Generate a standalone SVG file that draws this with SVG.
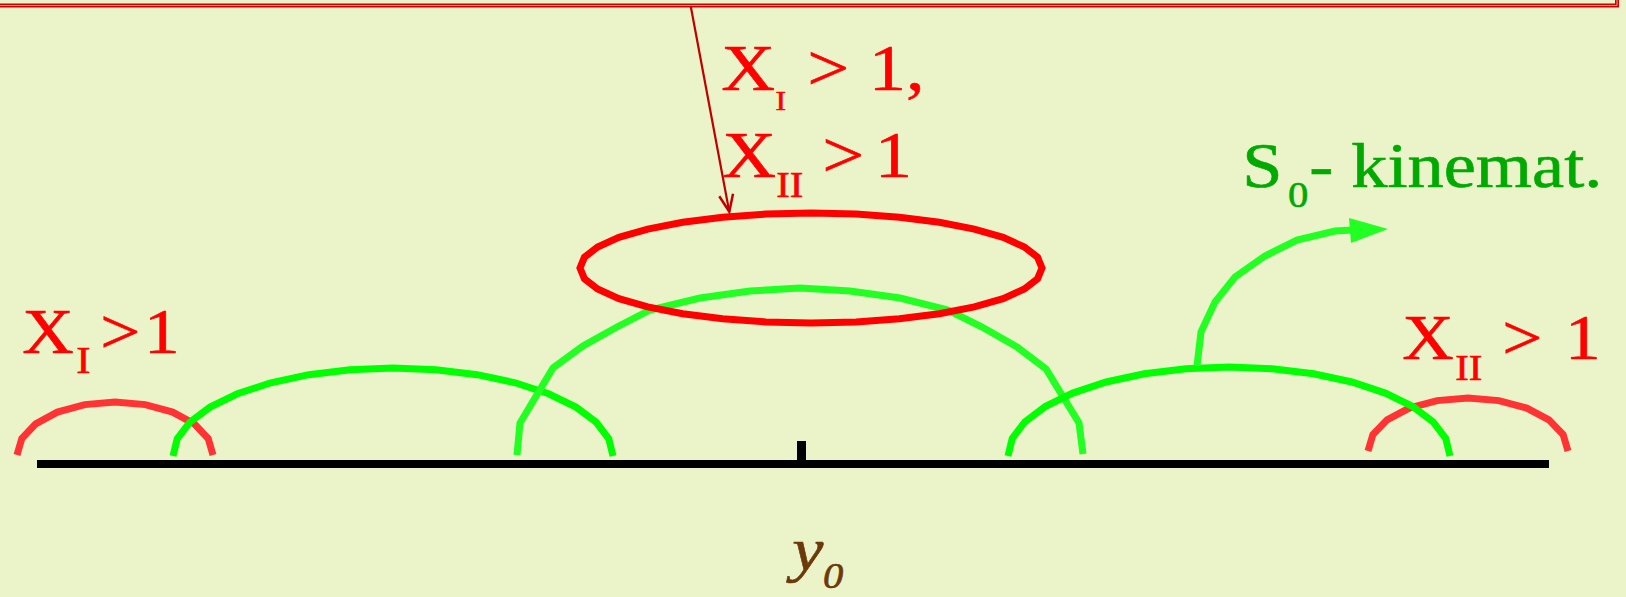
<svg xmlns="http://www.w3.org/2000/svg" width="1626" height="597" viewBox="0 0 1626 597">
<defs>
<style>
.lbl{font-family:"Liberation Serif","Times New Roman",serif;stroke-width:0.6;}
.red{fill:#ff0000;stroke:#ff0000;}
.grn{fill:#00aa00;stroke:#00aa00;}
.arcR{fill:none;stroke:#ff3333;stroke-width:7;}
.ell{fill:none;stroke:#ff0000;stroke-width:7;}
.arcG{fill:none;stroke:#00ff00;stroke-width:7;}
.arcG2{fill:none;stroke:#22ff22;stroke-width:7;}
</style>
<marker id="vhead" markerWidth="24" markerHeight="24" refX="18" refY="10" orient="auto" markerUnits="userSpaceOnUse">
<path d="M1,3 L18,10 L1,17" fill="none" stroke="#c00000" stroke-width="2.5"/>
</marker>
</defs>
<rect x="0" y="0" width="1626" height="597" fill="#ebf3c8"/>

<g id="topbox">
<path d="M-5 5.5 H1617 V-5" fill="none" stroke="#d00000" stroke-width="4"/>
<path d="M-5 5.5 H1617 V-5" fill="none" stroke="#ff9090" stroke-width="1"/>
</g>

<g id="axis">
<rect x="37" y="460" width="1512" height="8" fill="#000"/>
<rect x="797" y="441" width="9" height="20" fill="#000"/>
</g>

<g id="arc-red-left">
<polyline class="arcR" points="213,455 208.2,438.6 194.3,423.9 172.6,412.1 145.3,404.6 115,402 84.7,404.6 57.4,412.1 35.7,423.9 21.8,438.6 17,455"/>
</g>
<g id="arc-red-right">
<polyline class="arcR" points="1568,451 1563.1,434.6 1548.9,419.9 1526.8,408.1 1498.9,400.6 1468,398 1437.1,400.6 1409.2,408.1 1387.1,419.9 1372.9,434.6 1368,451"/>
</g>
<g id="arc-green-left">
<polyline class="arcG" points="613,456 608.8,438.8 596.3,422.3 575.9,407.1 548.6,393.8 515.2,382.8 477.2,374.7 435.9,369.7 393,368 350.1,369.7 308.8,374.7 270.8,382.8 237.4,393.8 210.1,407.1 189.8,422.3 177.2,438.8 173,456"/>
</g>
<g id="arc-green-mid">
<polyline class="arcG2" points="517,455 520,423 553,368 583,346 617,327 650,310 700,298 750,291 800,288 850,291 900,298 948,310 982,327 1017,347 1046,369 1079,423 1083,454"/>
</g>
<g id="arc-green-right">
<polyline class="arcG" points="1450,456 1445.8,438.6 1433.2,421.9 1412.8,406.6 1385.3,393.1 1351.8,382 1313.6,373.8 1272.1,368.7 1229,367 1185.9,368.7 1144.4,373.8 1106.2,382 1072.7,393.1 1045.2,406.6 1024.8,421.9 1012.2,438.6 1008,456"/>
</g>
<g id="ellipse-red">
<polygon class="ell" points="1042,268 1037.6,257.3 1024.4,247 1003.1,237.4 974.3,229.1 939.3,222.3 899.4,217.2 856.1,214.1 811,213 765.9,214.1 722.6,217.2 682.7,222.3 647.7,229.1 618.9,237.4 597.6,247 584.4,257.3 580,268 584.4,278.7 597.6,289 618.9,298.6 647.7,306.9 682.7,313.7 722.6,318.8 765.9,321.9 811,323 856.1,321.9 899.4,318.8 939.3,313.7 974.3,306.9 1003.1,298.6 1024.4,289 1037.6,278.7"/>
</g>

<g id="connectors">
<line x1="690.7" y1="6" x2="729.3" y2="211.7" stroke="#c00000" stroke-width="2.2" marker-end="url(#vhead)"/>
<polyline class="arcG2" points="1197,366 1201,332 1215,302 1235,277 1265,256 1297,240 1335,231 1352,230"/>
<polygon points="1388,229 1349,218 1351,243" fill="#22ff22"/>
</g>

<g id="label-top">
<text class="lbl red" transform="scale(1.13 1)" font-size="66">
<tspan x="638.3" y="90">X</tspan><tspan x="686.3" y="110" font-size="28">I</tspan><tspan x="714.4" y="90">&gt;</tspan><tspan x="768.8" y="90">1,</tspan>
<tspan x="639.2" y="177">X</tspan><tspan x="687" y="197" font-size="36">II</tspan><tspan x="727.6" y="177">&gt;</tspan><tspan x="774.1" y="177">1</tspan>
</text>
</g>
<g id="label-left">
<text class="lbl red" transform="scale(1.13 1)" font-size="63">
<tspan x="19.7" y="353">X</tspan><tspan x="67.5" y="373" font-size="38">I</tspan><tspan x="88.8" y="353">&gt;</tspan><tspan x="127.5" y="353">1</tspan>
</text>
</g>
<g id="label-right">
<text class="lbl red" transform="scale(1.13 1)" font-size="63">
<tspan x="1241" y="359">X</tspan><tspan x="1287.9" y="380" font-size="36">II</tspan><tspan x="1329.5" y="359">&gt;</tspan><tspan x="1385" y="359">1</tspan>
</text>
</g>
<g id="label-kinemat">
<text class="lbl grn" transform="scale(1.13 1)" font-size="64">
<tspan x="1099.3" y="187">S</tspan><tspan x="1139.8" y="207" font-size="36">0</tspan><tspan x="1158.6" y="187">- kinemat.</tspan>
</text>
</g>
<g id="label-y0">
<text class="lbl" transform="scale(1.13 1)" font-size="62" font-style="italic" fill="#6b3a0a" stroke="#6b3a0a">
<tspan x="701" y="570">y</tspan><tspan x="728.3" y="588" font-size="36">0</tspan>
</text>
</g>
</svg>
